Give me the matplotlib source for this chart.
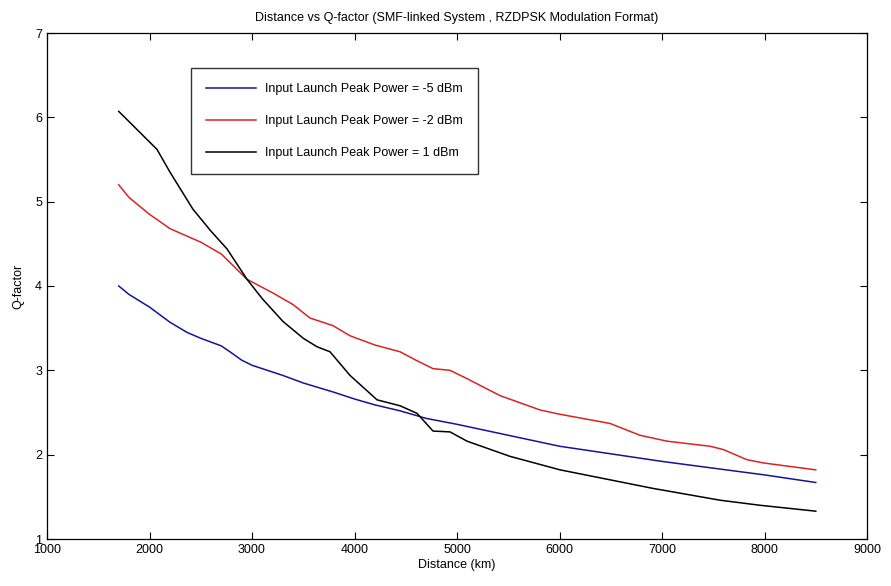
import matplotlib
matplotlib.use("Agg")
import matplotlib.pyplot as plt

dist_blue = [1700, 1800, 2000, 2200, 2366, 2500, 2700, 2785, 2900, 3000, 3300, 3500, 3800,
             4000, 4200, 4444, 4700, 5000, 5500, 6000, 6500, 7000, 7500, 8000, 8500]
q_blue = [4.0, 3.9, 3.75, 3.57, 3.45, 3.38, 3.29, 3.22, 3.12, 3.06, 2.94, 2.85, 2.74,
          2.66, 2.59, 2.52, 2.43, 2.36, 2.23, 2.10, 2.01, 1.92, 1.84, 1.76, 1.67]

dist_red = [1700, 1800, 2000, 2200, 2500, 2700, 2950, 3200, 3400, 3566, 3790, 3956, 4200,
            4444, 4600, 4766, 4932, 5100, 5420, 5810, 6000, 6493, 6785, 7049, 7468, 7600,
            7829, 8000, 8500]
q_red = [5.2, 5.05, 4.85, 4.68, 4.52, 4.38, 4.08, 3.92, 3.78, 3.62, 3.53, 3.41, 3.30,
         3.22, 3.12, 3.02, 3.00, 2.90, 2.70, 2.53, 2.48, 2.37, 2.23, 2.16, 2.10, 2.06,
         1.94, 1.90, 1.82]

dist_black = [1700, 1800, 2073, 2200, 2424, 2600, 2756, 2951, 3100, 3302, 3500, 3634, 3761,
              3956, 4220, 4444, 4610, 4766, 4932, 5098, 5517, 6005, 6500, 6912, 7566, 7956, 8500]
q_black = [6.07, 5.95, 5.62, 5.35, 4.91, 4.65, 4.44, 4.08, 3.85, 3.58, 3.38, 3.28, 3.22,
           2.94, 2.65, 2.58, 2.49, 2.28, 2.27, 2.16, 1.98, 1.82, 1.70, 1.60, 1.46, 1.40, 1.33]

labels = ["Input Launch Peak Power = -5 dBm",
          "Input Launch Peak Power = -2 dBm",
          "Input Launch Peak Power = 1 dBm"]
title = "Distance vs Q-factor (SMF-linked System , RZDPSK Modulation Format)"
xticks = [1000, 2000, 3000, 4000, 5000, 6000, 7000, 8000, 9000]
yticks = [1, 2, 3, 4, 5, 6, 7]

plt.rcParams['font.family'] = ['Liberation Sans', 'DejaVu Sans']

fig = plt.figure(figsize=(8.91, 5.86), dpi=100)
ax = fig.add_axes([47/891, 1 - 539/586, (867-47)/891, (539-33)/586])

ax.plot(dist_blue, q_blue, color='#141496', lw=1.1, label=labels[0])
ax.plot(dist_red, q_red, color='#d82424', lw=1.1, label=labels[1])
ax.plot(dist_black, q_black, color='black', lw=1.1, label=labels[2])

ax.set_xlim(1000, 9000)
ax.set_ylim(1, 7)
ax.set_xticks(xticks)
ax.set_yticks(yticks)
ax.tick_params(direction='in', top=True, right=True, labelsize=9, length=5, width=0.8)
for s in ax.spines.values():
    s.set_linewidth(0.9)

ax.set_title(title, fontsize=9, pad=9)
ax.set_xlabel("Distance (km)", fontsize=9, labelpad=2)
ax.set_ylabel("Q-factor", fontsize=9, labelpad=8)

leg = ax.legend(loc='upper left', bbox_to_anchor=((191-47)/820, 1 - (68-33)/506),
                fontsize=9, handlelength=4.0, frameon=True, fancybox=False,
                edgecolor='black', borderpad=1.2, labelspacing=1.6, borderaxespad=0,
                handletextpad=0.7)
leg.get_frame().set_linewidth(1.0)

fig.savefig("out.png", dpi=100)
